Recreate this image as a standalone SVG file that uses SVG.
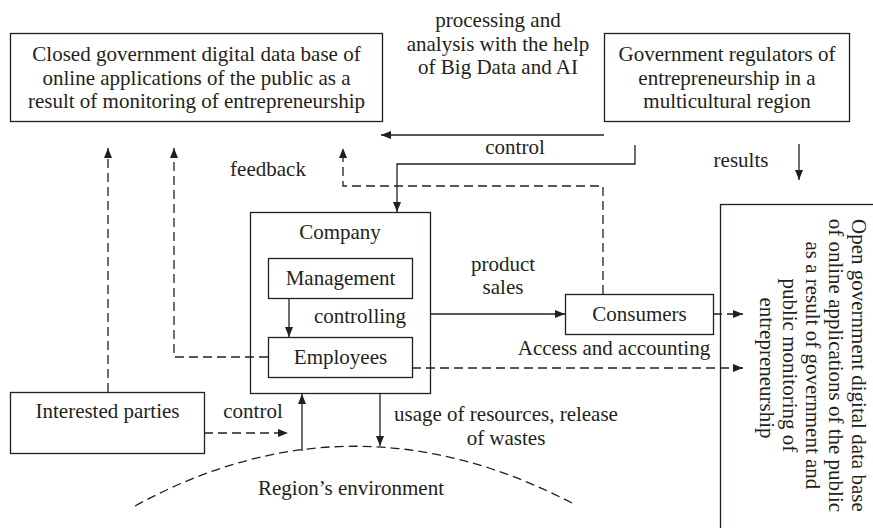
<svg xmlns="http://www.w3.org/2000/svg" width="873" height="528" viewBox="0 0 873 528">
<defs>
<style>
text{font-family:"Liberation Serif","Times New Roman",serif;font-size:21px;fill:#231f20;text-anchor:middle}
.box{fill:#fff;stroke:#231f20;stroke-width:1.3}
.ln{fill:none;stroke:#231f20;stroke-width:1.3}
.ds{fill:none;stroke:#231f20;stroke-width:1.3;stroke-dasharray:9 5}
.arr{marker-end:url(#ah)}
</style>
<marker id="ah" viewBox="0 0 10 8" refX="10" refY="4" markerWidth="10" markerHeight="8" orient="auto" markerUnits="userSpaceOnUse">
<path d="M0,0 L10,4 L0,8 z" fill="#231f20" stroke="none"/>
</marker>
</defs>
<rect width="873" height="528" fill="#fff"/>

<g id="closed-db">
<rect class="box" x="10.5" y="33.5" width="372" height="88"/>
<text x="196.5" y="61">Closed government digital data base of</text>
<text x="196.5" y="84.5">online applications of the public as a</text>
<text x="196.5" y="108">result of monitoring of entrepreneurship</text>
</g>

<g id="gov-regulators">
<rect class="box" x="604.5" y="33.5" width="245" height="88"/>
<text x="727" y="61">Government regulators of</text>
<text x="727" y="84.5">entrepreneurship in a</text>
<text x="727" y="108">multicultural region</text>
</g>

<g id="processing-label">
<text x="498" y="27">processing and</text>
<text x="498" y="50.5">analysis with the help</text>
<text x="498" y="74">of Big Data and AI</text>
</g>

<g id="company">
<rect class="box" x="250.5" y="212.5" width="180" height="181"/>
<text x="340" y="239">Company</text>
</g>

<g id="management">
<rect class="box" x="268.5" y="258.5" width="144" height="40"/>
<text x="340.5" y="285">Management</text>
</g>

<g id="employees">
<rect class="box" x="268.5" y="337.5" width="144" height="40"/>
<text x="340.5" y="364">Employees</text>
</g>

<g id="consumers">
<rect class="box" x="565.5" y="294.5" width="148" height="40"/>
<text x="639.5" y="321">Consumers</text>
</g>

<g id="interested-parties">
<rect class="box" x="10.5" y="392.5" width="194" height="61"/>
<text x="107.5" y="418">Interested parties</text>
</g>

<g id="open-db">
<rect class="box" x="720.5" y="204.5" width="170" height="340"/>
<text transform="rotate(90)" x="368" y="-852">
<tspan x="368">Open government digital data base</tspan>
<tspan x="368" dy="23">of online applications of the public</tspan>
<tspan x="368" dy="23">as a result of government and</tspan>
<tspan x="368" dy="23">public monitoring of</tspan>
<tspan x="368" dy="23">entrepreneurship</tspan>
</text>
</g>

<g id="region-environment">
<path class="ds" d="M135,506 Q350,388 572,503"/>
<text x="351" y="495">Region’s environment</text>
</g>

<g id="connectors">
<path class="ln arr" d="M604,135 H381"/>
<path class="ln arr" d="M635,145 V164 H397 V212"/>
<path class="ds arr" d="M603,294 V186 H343 V148"/>
<path class="ln arr" d="M799,144 V180"/>
<path class="ds arr" d="M268,357 H174 V148"/>
<path class="ds arr" d="M108,392 V148"/>
<path class="ln arr" d="M289,298 V337"/>
<path class="ln arr" d="M430,314 H565"/>
<path class="ds arr" d="M713,314 H743"/>
<path class="ds arr" d="M412,368 H743"/>
<path class="ds arr" d="M204,433 H288"/>
<path class="ln arr" d="M302,451 V394"/>
<path class="ln arr" d="M380,394 V446"/>
</g>

<g id="labels">
<text x="515" y="154">control</text>
<text x="268" y="176">feedback</text>
<text x="741" y="167">results</text>
<text x="503" y="271">product</text>
<text x="503" y="294">sales</text>
<text x="360" y="323">controlling</text>
<text x="614" y="355">Access and accounting</text>
<text x="253" y="418">control</text>
<text x="506" y="421">usage of resources, release</text>
<text x="506" y="445">of wastes</text>
</g>
</svg>
